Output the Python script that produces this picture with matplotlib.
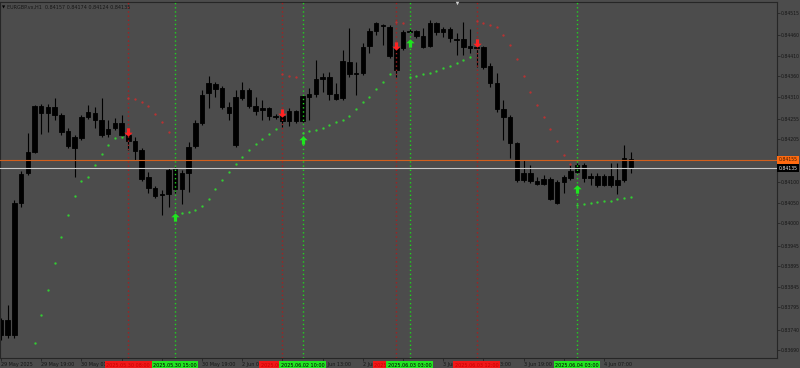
import matplotlib
matplotlib.use("Agg")
import matplotlib.pyplot as plt
import matplotlib.transforms as mtransforms
import numpy as np

# EURGBP H1 candles
opens = [0.83727, 0.83763, 0.83727, 0.84050, 0.84123, 0.84174, 0.84287, 0.84270, 0.84284, 0.84265,
         0.84226, 0.84211, 0.84209, 0.84260, 0.84270, 0.84253, 0.84218, 0.84233, 0.84245, 0.84216,
         0.84201, 0.84179, 0.84113, 0.84086, 0.84072, 0.84072, 0.84133, 0.84084, 0.84123, 0.84189,
         0.84245, 0.84319, 0.84341, 0.84331, 0.84284, 0.84191, 0.84306, 0.84326, 0.84287, 0.84277,
         0.84282, 0.84262, 0.84262, 0.84250, 0.84275, 0.84250, 0.84309, 0.84316, 0.84353, 0.84358,
         0.84316, 0.84306, 0.84394, 0.84365, 0.84368, 0.84434, 0.84470, 0.84485, 0.84480, 0.84431,
         0.84429, 0.84468, 0.84470, 0.84458, 0.84434, 0.84490, 0.84468, 0.84475, 0.84451, 0.84451,
         0.84434, 0.84429, 0.84431, 0.84385, 0.84343, 0.84280, 0.84260, 0.84196, 0.84106, 0.84123,
         0.84103, 0.84096, 0.84108, 0.84050, 0.84101, 0.84111, 0.84125, 0.84143, 0.84111, 0.84116,
         0.84094, 0.84116, 0.84094, 0.84106, 0.84157]
highs = [0.83768, 0.83800, 0.84057, 0.84128, 0.84221, 0.84289, 0.84292, 0.84292, 0.84306, 0.84270,
         0.84233, 0.84216, 0.84265, 0.84289, 0.84284, 0.84306, 0.84253, 0.84258, 0.84265, 0.84221,
         0.84211, 0.84184, 0.84125, 0.84091, 0.84081, 0.84135, 0.84138, 0.84130, 0.84199, 0.84253,
         0.84326, 0.84360, 0.84346, 0.84336, 0.84297, 0.84326, 0.84346, 0.84331, 0.84309, 0.84302,
         0.84284, 0.84267, 0.84265, 0.84282, 0.84277, 0.84314, 0.84331, 0.84399, 0.84368, 0.84370,
         0.84343, 0.84424, 0.84478, 0.84394, 0.84441, 0.84478, 0.84492, 0.84487, 0.84485, 0.84441,
         0.84473, 0.84475, 0.84473, 0.84478, 0.84497, 0.84492, 0.84480, 0.84480, 0.84465, 0.84492,
         0.84475, 0.84436, 0.84434, 0.84392, 0.84368, 0.84302, 0.84265, 0.84199, 0.84155, 0.84143,
         0.84113, 0.84118, 0.84113, 0.84106, 0.84118, 0.84143, 0.84147, 0.84147, 0.84123, 0.84123,
         0.84121, 0.84147, 0.84147, 0.84191, 0.84174]
lows = [0.83715, 0.83719, 0.83719, 0.84040, 0.84118, 0.84172, 0.84218, 0.84223, 0.84253, 0.84216,
        0.84184, 0.84113, 0.84204, 0.84255, 0.84233, 0.84211, 0.84211, 0.84228, 0.84211, 0.84179,
        0.84155, 0.84103, 0.84074, 0.84062, 0.84020, 0.84040, 0.84074, 0.84047, 0.84077, 0.84184,
        0.84240, 0.84282, 0.84309, 0.84280, 0.84253, 0.84187, 0.84302, 0.84282, 0.84265, 0.84253,
        0.84253, 0.84255, 0.84236, 0.84238, 0.84245, 0.84248, 0.84253, 0.84309, 0.84321, 0.84302,
        0.84302, 0.84302, 0.84358, 0.84314, 0.84363, 0.84417, 0.84461, 0.84436, 0.84404, 0.84358,
        0.84424, 0.84465, 0.84453, 0.84429, 0.84431, 0.84461, 0.84456, 0.84443, 0.84412, 0.84412,
        0.84417, 0.84382, 0.84377, 0.84333, 0.84272, 0.84204, 0.84160, 0.84101, 0.84101, 0.84098,
        0.84094, 0.84094, 0.84057, 0.84047, 0.84074, 0.84106, 0.84123, 0.84101, 0.84094, 0.84089,
        0.84091, 0.84089, 0.84072, 0.84101, 0.84124]
closes = [0.83763, 0.83727, 0.84050, 0.84121, 0.84174, 0.84287, 0.84270, 0.84284, 0.84265, 0.84223,
          0.84189, 0.84184, 0.84260, 0.84272, 0.84253, 0.84216, 0.84231, 0.84245, 0.84216, 0.84201,
          0.84177, 0.84108, 0.84086, 0.84067, 0.84069, 0.84130, 0.84084, 0.84123, 0.84187, 0.84245,
          0.84314, 0.84343, 0.84328, 0.84284, 0.84270, 0.84309, 0.84326, 0.84287, 0.84275, 0.84282,
          0.84262, 0.84260, 0.84250, 0.84275, 0.84250, 0.84311, 0.84316, 0.84353, 0.84358, 0.84316,
          0.84304, 0.84397, 0.84365, 0.84368, 0.84431, 0.84470, 0.84490, 0.84483, 0.84409, 0.84375,
          0.84468, 0.84470, 0.84458, 0.84431, 0.84490, 0.84468, 0.84475, 0.84453, 0.84448, 0.84431,
          0.84429, 0.84431, 0.84382, 0.84343, 0.84280, 0.84260, 0.84196, 0.84106, 0.84123, 0.84103,
          0.84096, 0.84108, 0.84059, 0.84101, 0.84113, 0.84128, 0.84143, 0.84111, 0.84116, 0.84094,
          0.84116, 0.84094, 0.84106, 0.84160, 0.84135]

# parabolic SAR, one value per bar (nan = no dot drawn)
sar_values = [np.nan, np.nan, np.nan, np.nan, np.nan, 0.83706, 0.83776, 0.83837, 0.83902, 0.83967,
              0.84020, 0.84067, 0.84104, 0.84112, 0.84143, 0.84169, 0.84191, 0.84208, 0.84212, 0.84306,
              0.84303, 0.84297, 0.84287, 0.84267, 0.84248, 0.84222, 0.84015, 0.84024, 0.84028, 0.84032,
              0.84042, 0.84059, 0.84083, 0.84106, 0.84126, 0.84145, 0.84163, 0.84179, 0.84194, 0.84207,
              0.84219, 0.84231, 0.84365, 0.84360, 0.84358, 0.84221, 0.84226, 0.84228, 0.84234, 0.84240,
              0.84247, 0.84253, 0.84263, 0.84280, 0.84297, 0.84310, 0.84328, 0.84346, 0.84364, 0.84493,
              0.84489, 0.84358, 0.84361, 0.84365, 0.84368, 0.84373, 0.84379, 0.84385, 0.84393, 0.84399,
              0.84406, 0.84495, 0.84491, 0.84485, 0.84479, 0.84461, 0.84436, 0.84401, 0.84359, 0.84322,
              0.84289, 0.84259, 0.84230, 0.84200, 0.84167, 0.84144, 0.84045, 0.84047, 0.84050, 0.84053,
              0.84054, 0.84055, 0.84059, 0.84061, 0.84065]

buy_bars = [26, 45, 61, 86]
buy_arrow_prices = [0.84015, 0.84204, 0.84441, 0.84084]
buy_labels = ["2025.05.30 15:00", "2025.06.02 10:00", "2025.06.03 03:00", "2025.06.04 03:00"]
sell_bars = [19, 42, 59, 71]
sell_arrow_prices = [0.84223, 0.84270, 0.84434, 0.84441]
sell_labels = ["2025.05.30 08:00", "2025.06.02 07:00", "2025.06.03 00:00", "2025.06.03 12:00"]

time_tick_bars = [0, 6, 12, 18, 24, 30, 36, 42, 48, 54, 60, 66, 72, 78, 84, 90]
time_tick_labels = ["29 May 2025", "29 May 19:00", "30 May 01:00", "30 May 07:00", "30 May 13:00",
                    "30 May 19:00", "2 Jun 01:00", "2 Jun 07:00", "2 Jun 13:00", "2 Jun 19:00",
                    "3 Jun 01:00", "3 Jun 07:00", "3 Jun 13:00", "3 Jun 19:00", "4 Jun 01:00",
                    "4 Jun 07:00"]
price_ticks = [0.84515, 0.84460, 0.84410, 0.84360, 0.84310, 0.84255, 0.84205, 0.84150, 0.84100,
               0.84050, 0.84000, 0.83945, 0.83895, 0.83845, 0.83795, 0.83740, 0.83690]

title_text = "EURGBP.vx,H1  0.84157 0.84174 0.84124 0.84135"
orange_level = 0.84155
last_price = 0.84135

BG = "#4c4c4c"
TXT = "#161616"
FS = 3.5
FS_Y = 3.3

fig = plt.figure(figsize=(8, 3.68), dpi=100, facecolor=BG)
ax = fig.add_axes([0.0, 0.0264, 0.9709, 0.9690], facecolor=BG)

idx = np.arange(len(opens))
o = np.array(opens)
c = np.array(closes)

# candles: all black bodies like the MT4 template
ax.vlines(idx, lows, highs, color="black", lw=0.8, zorder=2)
ax.bar(idx, np.abs(c - o), bottom=np.minimum(o, c), width=0.66, color="black",
       edgecolor="black", linewidth=0.6, zorder=2)

# signal vertical lines
for b in sell_bars:
    ax.axvline(b, color="#a52020", lw=1.0, ls=(0, (1, 2)), zorder=3)
for b in buy_bars:
    ax.axvline(b, color="#1fd41f", lw=1.0, ls=(0, (1, 2)), zorder=3)

# horizontal price lines
ax.axhline(orange_level, color="#d2601e", lw=0.8, zorder=3)
ax.axhline(last_price, color="#c8c8c8", lw=0.8, zorder=3)

# SAR dots, colour flips at each signal
sar = np.array(sar_values)
signals = sorted([(b, "buy") for b in buy_bars] + [(b, "sell") for b in sell_bars])
side = []
for i in idx:
    s = "buy"
    for b, kind in signals:
        if b <= i:
            s = kind
    side.append(s)
side = np.array(side)
ax.plot(idx[side == "buy"], sar[side == "buy"], ls="none", marker="o", ms=1.7,
        color="#33cc33", mew=0, zorder=4)
ax.plot(idx[side == "sell"], sar[side == "sell"], ls="none", marker="o", ms=1.7,
        color="#b83232", mew=0, zorder=4)

# arrows
up_arrow = [(0, 1), (-1, 0.05), (-0.38, 0.05), (-0.38, -1), (0.38, -1), (0.38, 0.05), (1, 0.05), (0, 1)]
down_arrow = [(x, -y) for x, y in up_arrow]
ax.plot(buy_bars, buy_arrow_prices, ls="none", marker=up_arrow, ms=6, color="#1ee61e",
        mew=0, zorder=5)
ax.plot(sell_bars, sell_arrow_prices, ls="none", marker=down_arrow, ms=6, color="#ff2222",
        mew=0, zorder=5)

ax.set_xlim(-0.15, 115.78)
ax.set_ylim(0.836697, 0.845419)

# axes look
for sp in ax.spines.values():
    sp.set_color("#262626")
    sp.set_linewidth(0.8)
ax.yaxis.tick_right()
ax.set_yticks(price_ticks)
ax.set_yticklabels([f"{p:.5f}" for p in price_ticks])
ax.tick_params(axis="y", length=2, width=0.6, color="#262626", labelsize=FS_Y, labelcolor=TXT, pad=1)
ax.set_xticks(time_tick_bars)
ax.set_xticklabels(time_tick_labels)
ax.tick_params(axis="x", length=2, width=0.6, color="#262626", labelsize=FS, labelcolor=TXT, pad=1.0)
for lab in ax.get_xticklabels():
    lab.set_ha("left")

# signal time boxes on the time axis
tr = mtransforms.blended_transform_factory(ax.transData, ax.transAxes)
for b, lab in zip(sell_bars, sell_labels):
    ax.text(b, -0.019, lab, transform=tr, ha="center", va="center", fontsize=FS, color="#c80000",
            bbox=dict(boxstyle="square,pad=0.3", fc="#f01818", ec="none"), clip_on=False, zorder=10)
for b, lab in zip(buy_bars, buy_labels):
    ax.text(b, -0.019, lab, transform=tr, ha="center", va="center", fontsize=FS, color="black",
            bbox=dict(boxstyle="square,pad=0.3", fc="#22e622", ec="none"), clip_on=False, zorder=11)

# price labels on the right axis
tr_y = mtransforms.blended_transform_factory(ax.transAxes, ax.transData)
ax.text(1.002, orange_level, f"{orange_level:.5f}", transform=tr_y, ha="left", va="center",
        fontsize=FS_Y, color="#3a1a00",
        bbox=dict(boxstyle="square,pad=0.3", fc="#ff6a10", ec="none"), clip_on=False, zorder=10)
ax.text(1.002, last_price, f"{last_price:.5f}", transform=tr_y, ha="left", va="center",
        fontsize=FS_Y, color="#e8e8e8",
        bbox=dict(boxstyle="square,pad=0.3", fc="black", ec="none"), clip_on=False, zorder=10)

# header and chart shift marker
ax.text(0.003, 0.985, "\u25bc", transform=ax.transAxes, ha="left", va="center", fontsize=3,
        color="black")
ax.text(0.009, 0.985, title_text, transform=ax.transAxes, ha="left", va="center", fontsize=FS,
        color=TXT)
ax.plot([0.588], [0.996], transform=ax.transAxes, marker="v", ms=2.5, color="#d0d0d0",
        mew=0, clip_on=False, zorder=6)

fig.savefig("out.png", dpi=100, facecolor=BG)
